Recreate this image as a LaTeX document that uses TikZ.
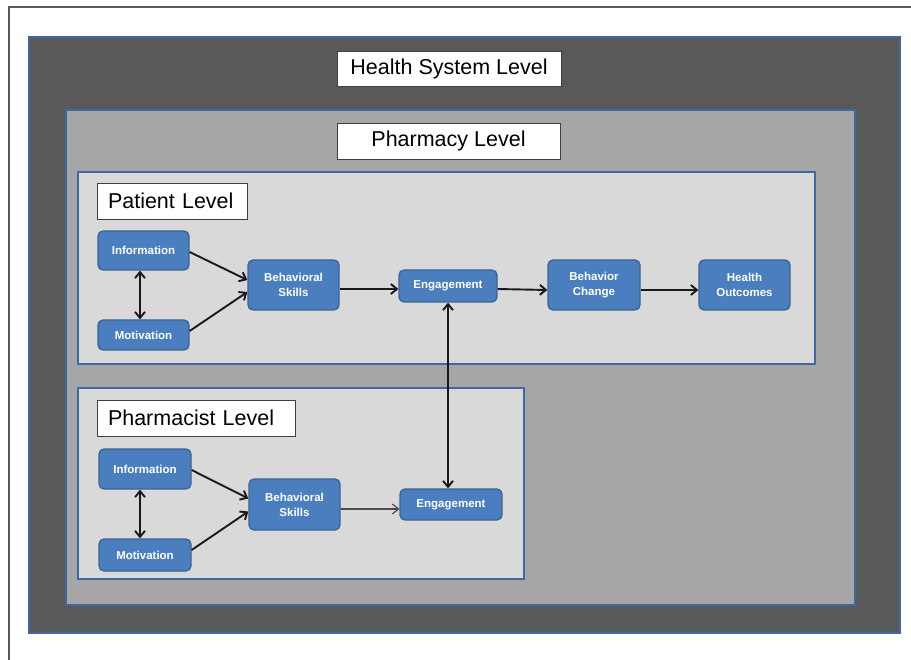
\documentclass[tikz,border=0pt]{standalone}
\usepackage{fontspec}
\setmainfont{Liberation Sans}
\usetikzlibrary{arrows.meta}
\definecolor{dark}{HTML}{595959}
\definecolor{mid}{HTML}{A6A6A6}
\definecolor{light}{HTML}{D9D9D9}
\definecolor{frameblue}{HTML}{3E68A3}
\definecolor{nodeblue}{HTML}{4A7EBF}
\definecolor{nodeedge}{HTML}{3A6496}
\tikzset{
  panel/.style={draw=frameblue, line width=1.8pt},
  lvl/.style={draw=black!75, fill=white, line width=0.9pt, font=\fontsize{21.5}{24}\selectfont, inner sep=0pt, anchor=center},
  box/.style={draw=nodeedge, fill=nodeblue, line width=1.3pt, rounded corners=5pt, text=white, font=\fontsize{11.5}{15}\selectfont\bfseries, align=center, inner sep=0pt},
  arr/.style={-{Straight Barb[length=6pt,width=10pt]}, line width=1.9pt, black!90},
  darr/.style={{Straight Barb[length=6pt,width=10pt]}-{Straight Barb[length=6pt,width=10pt]}, line width=1.9pt, black!90},
  thin/.style={-{Straight Barb[length=6pt,width=10pt]}, line width=1.2pt, black!70}
}
\begin{document}
\begin{tikzpicture}[x=1pt,y=-1pt]
\useasboundingbox (0,0) rectangle (911,660);
% outer frame (partial)
\draw[black!65, line width=1.4pt] (9,660) -- (9,7) -- (911,7);
% panels
\fill[dark] (29,37) rectangle (900,633);
\draw[panel] (29,37) rectangle (900,633);
\fill[mid] (66,110) rectangle (855,605);
\draw[panel] (66,110) rectangle (855,605);
\fill[light] (78,172) rectangle (815,364);
\draw[panel] (78,172) rectangle (815,364);
\fill[light] (78,388) rectangle (524,579);
\draw[panel] (78,388) rectangle (524,579);
% level labels
\node[lvl, minimum width=224pt, minimum height=35pt] (hsl) at (449,68.5) {Health System Level};
\node[lvl, minimum width=223pt, minimum height=36pt] (phl) at (448.5,141) {Pharmacy Level};
\node[lvl, minimum width=150pt, minimum height=36pt, text width=128pt, align=left] (pal) at (172,201) {Patient Level};
\node[lvl, minimum width=198pt, minimum height=36pt, text width=176pt, align=left] (pcl) at (196,418) {Pharmacist Level};
% patient level nodes
\node[box, minimum width=91pt, minimum height=39pt] (pinfo) at (143.5,250.5) {Information};
\node[box, minimum width=91pt, minimum height=30pt] (pmot) at (143.5,335) {Motivation};
\node[box, minimum width=91pt, minimum height=50pt] (pbs) at (293.5,285) {Behavioral\\Skills};
\node[box, minimum width=98pt, minimum height=32pt] (peng) at (448,286) {Engagement};
\node[box, minimum width=92pt, minimum height=50pt] (pbc) at (594,285) {Behavior\\Change};
\node[box, minimum width=91pt, minimum height=50pt] (pho) at (744.5,285) {Health\\Outcomes};
% pharmacist level nodes
\node[box, minimum width=92pt, minimum height=40pt] (finfo) at (145,469) {Information};
\node[box, minimum width=92pt, minimum height=32pt] (fmot) at (145,555) {Motivation};
\node[box, minimum width=91pt, minimum height=51pt] (fbs) at (294.5,504.5) {Behavioral\\Skills};
\node[box, minimum width=102pt, minimum height=31pt] (feng) at (451,504.5) {Engagement};
% patient arrows
\draw[darr] ([xshift=-3.5pt]pinfo.south) -- ([xshift=-3.5pt]pmot.north);
\draw[arr] ([yshift=-1.5pt]pinfo.east) -- ([yshift=5pt]pbs.west);
\draw[arr] ([yshift=4pt]pmot.east) -- ([yshift=-7pt]pbs.west);
\draw[arr] ([yshift=-4pt]pbs.east) -- ([yshift=-4pt]pbs.east -| peng.west);
\draw[arr] ([yshift=-3pt]peng.east) -- ([yshift=-5pt]pbc.west);
\draw[arr] ([yshift=-5pt]pbc.east) -- ([yshift=-5pt]pho.west);
% pharmacist arrows
\draw[darr] ([xshift=-5pt]finfo.south) -- ([xshift=-5pt]fmot.north);
\draw[arr] ([yshift=-1pt]finfo.east) -- ([yshift=6pt]fbs.west);
\draw[arr] ([yshift=5pt]fmot.east) -- ([yshift=-7pt]fbs.west);
\draw[thin] ([yshift=-4.5pt]fbs.east) -- ([yshift=-4.5pt]fbs.east -| feng.west);
% cross-level link
\draw[darr] (peng.south) -- (peng.south |- feng.north);
\end{tikzpicture}
\end{document}
